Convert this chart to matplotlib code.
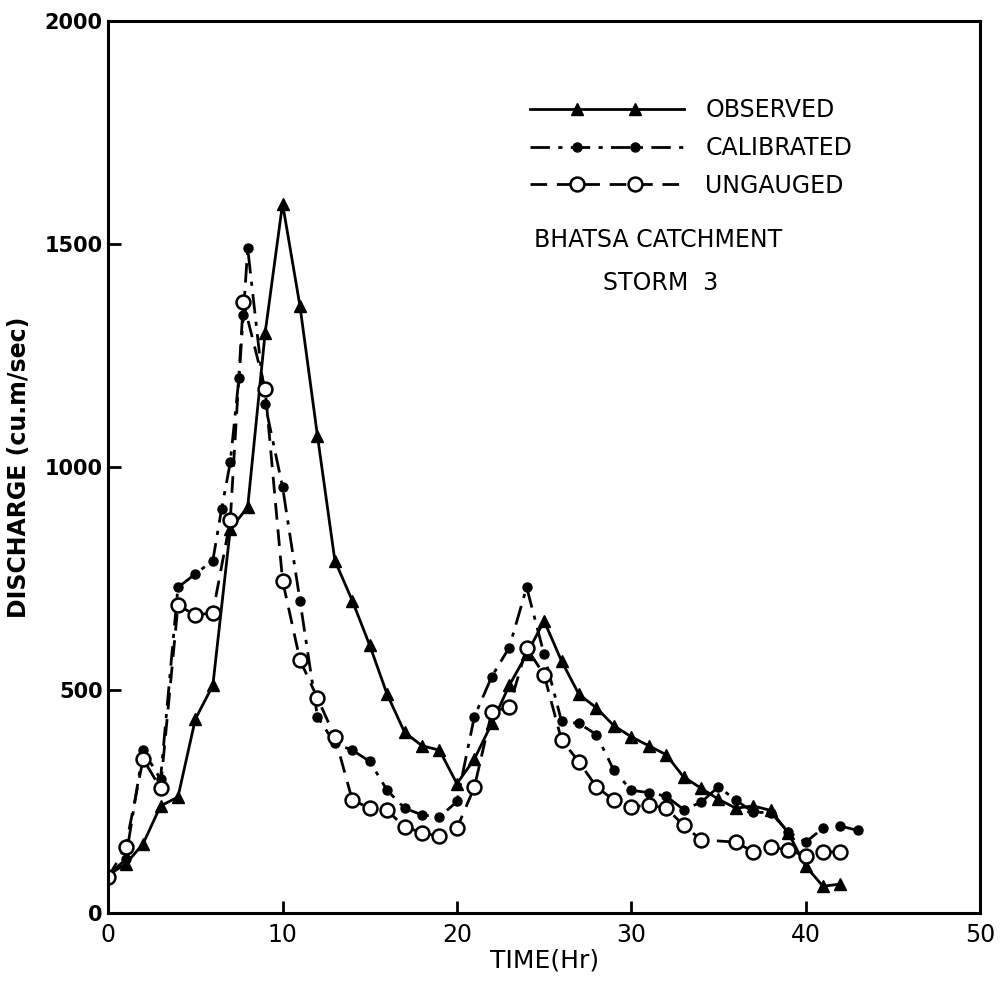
import numpy as np
import matplotlib
matplotlib.use('Agg')
import matplotlib.pyplot as plt
from matplotlib.legend_handler import HandlerLine2D

# values (time in hr, discharge in cu.m/sec)
t_obs = [0, 1, 2, 3, 4, 5, 6, 7, 8, 9, 10, 11, 12, 13, 14, 15, 16, 17, 18, 19, 20,
         21, 22, 23, 24, 25, 26, 27, 28, 29, 30, 31, 32, 33, 34, 35, 36, 37, 38, 39, 40, 41, 42]
q_obs = [85, 110, 155, 240, 260, 435, 510, 860, 910, 1300, 1590, 1360, 1070, 790, 700, 600, 490, 405, 375, 365, 290,
         345, 425, 510, 580, 655, 565, 490, 460, 420, 395, 375, 355, 305, 280, 255, 235, 240, 230, 180, 105, 60, 65]

t_cal = [0, 1, 2, 3, 4, 5, 6, 6.5, 7, 7.5, 7.75, 8, 9, 10, 11, 12, 13, 14, 15, 16, 17, 18, 19, 20,
         21, 22, 23, 24, 25, 26, 27, 28, 29, 30, 31, 32, 33, 34, 35, 36, 37, 38, 39, 40, 41, 42, 43]
q_cal = [85, 120, 365, 300, 730, 760, 790, 905, 1010, 1200, 1340, 1490, 1140, 955, 700, 440, 380, 365, 340, 275, 235, 220, 215, 250,
         440, 530, 595, 730, 580, 430, 425, 400, 320, 275, 270, 262, 232, 248, 283, 253, 226, 225, 182, 159, 190, 195, 185]

t_ung = [0, 1, 2, 3, 4, 5, 6, 7, 7.75, 9, 10, 11, 12, 13, 14, 15, 16, 17, 18, 19, 20,
         21, 22, 23, 24, 25, 26, 27, 28, 29, 30, 31, 32, 33, 34, 36, 37, 38, 39, 40, 41, 42]
q_ung = [80, 148, 345, 280, 690, 668, 673, 880, 1370, 1175, 745, 567, 482, 395, 253, 235, 230, 193, 180, 172, 190,
         282, 451, 462, 594, 534, 388, 339, 283, 253, 238, 242, 235, 197, 164, 159, 137, 148, 141, 128, 137, 137]

x_ticks = [0, 10, 20, 30, 40, 50]
y_ticks = [0, 500, 1000, 1500, 2000]


class TwoMarks(HandlerLine2D):
    # legend handle: full line, markers at about 1/3 and 2/3 of its length
    def get_xdata(self, legend, xdescent, ydescent, width, height, fontsize):
        x0 = -xdescent
        xdata = np.array([x0, x0 + 0.3 * width, x0 + 0.68 * width, x0 + width])
        return xdata, xdata

    def create_artists(self, *args, **kwargs):
        arts = super().create_artists(*args, **kwargs)
        for a in arts:
            a.set_markevery([1, 2])
        return arts


fig = plt.figure(figsize=(10.02, 9.86), dpi=100)
ax = fig.add_axes([0.108, 0.074, 0.87, 0.905])

ax.plot(t_obs, q_obs, color='black', lw=2.0, ls='-', marker='^', ms=8,
        mfc='black', mec='black', label='OBSERVED')
ax.plot(t_cal, q_cal, color='black', lw=2.0, dashes=(7, 3, 1.5, 3), marker='o', ms=6.5,
        mfc='black', mec='black', label='CALIBRATED')
ax.plot(t_ung, q_ung, color='black', lw=2.0, dashes=(6, 3.5), marker='o', ms=10,
        mfc='white', mec='black', mew=1.8, label='UNGAUGED')

ax.set_xlim(0, 50)
ax.set_ylim(0, 2000)
ax.set_xticks(x_ticks)
ax.set_yticks(y_ticks)
ax.tick_params(direction='in', length=9, width=2, top=False, right=False)
ax.tick_params(axis='x', labelsize=17, pad=7)
ax.tick_params(axis='y', labelsize=15, pad=4)
for lab in ax.get_yticklabels():
    lab.set_fontweight('bold')
for sp in ax.spines.values():
    sp.set_linewidth(2.2)

ax.set_xlabel('TIME(Hr)', fontsize=18, labelpad=1)
ax.set_ylabel('DISCHARGE (cu.m/sec)', fontsize=17, fontweight='bold', labelpad=10)

leg = ax.legend(loc='upper left', bbox_to_anchor=(0.46, 0.937), frameon=False, numpoints=2,
                fontsize=17, handlelength=6.5, handletextpad=0.9, labelspacing=0.58,
                handler_map={plt.Line2D: TwoMarks()})

ax.text(0.631, 0.754, 'BHATSA CATCHMENT', transform=ax.transAxes, fontsize=17,
        ha='center', va='center')
ax.text(0.634, 0.706, 'STORM  3', transform=ax.transAxes, fontsize=17,
        ha='center', va='center')

fig.savefig('out.png', dpi=100)
